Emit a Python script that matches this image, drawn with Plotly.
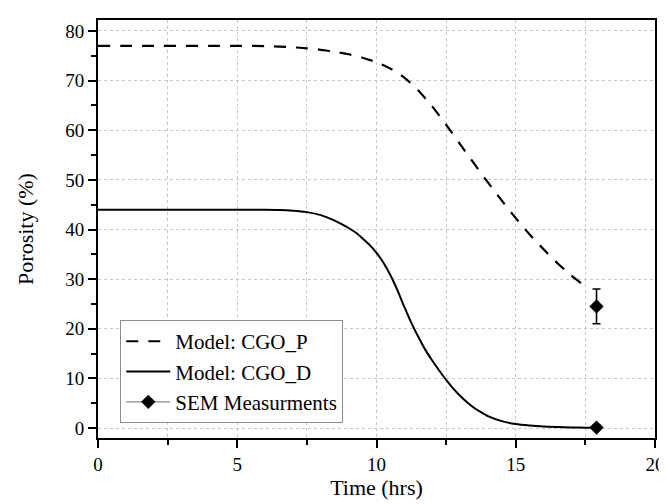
import plotly.graph_objects as go

# ---- data ----
time_p = [0, 1, 2, 3, 4, 5, 6, 6.5, 7, 7.5, 8, 8.5, 9, 9.5, 10, 10.5, 11, 11.5,
          12, 12.5, 13, 13.5, 14, 14.5, 15, 15.5, 16, 16.5, 17, 17.5]
porosity_p = [77, 77, 77, 77, 77, 77, 76.95, 76.85, 76.7, 76.5, 76.2, 75.8, 75.3, 74.6,
              73.7, 72.4, 70.6, 68.0, 64.8, 61.1, 57.2, 53.3, 49.5, 45.8, 42.3, 39.0,
              36.0, 33.2, 30.7, 28.5]

time_d = [0, 1, 2, 3, 4, 5, 6, 6.5, 7, 7.5, 8, 8.25, 8.5, 8.75, 9, 9.25, 9.5, 9.75,
          10, 10.25, 10.5, 10.75, 11, 11.25, 11.5, 11.75, 12, 12.25, 12.5, 12.75,
          13, 13.25, 13.5, 13.75, 14, 14.5, 15, 15.5, 16, 16.5, 17, 17.5, 17.9]
porosity_d = [44, 44, 44, 44, 44, 44, 44, 43.95, 43.8, 43.5, 42.9, 42.4, 41.8, 41.1,
              40.3, 39.4, 38.2, 36.9, 35.3, 33.3, 30.8, 27.8, 24.4, 21.2, 18.4, 15.8,
              13.6, 11.6, 9.7, 8.0, 6.5, 5.2, 4.1, 3.2, 2.4, 1.4, 0.8, 0.5, 0.3, 0.2,
              0.12, 0.08, 0.05]

sem_time = [17.9, 17.9]
sem_porosity = [24.5, 0.1]
sem_error = [3.5, 0.5]

x_ticks = [0, 5, 10, 15, 20]
y_ticks = [0, 10, 20, 30, 40, 50, 60, 70, 80]

FONT = "Liberation Serif"

fig = go.Figure()
fig.add_trace(go.Scatter(
    x=time_p, y=porosity_p, mode="lines", name="Model: CGO_P",
    line=dict(color="black", width=2.2, dash="12px,10px", shape="spline", smoothing=0.6),
))
fig.add_trace(go.Scatter(
    x=time_d, y=porosity_d, mode="lines", name="Model: CGO_D",
    line=dict(color="black", width=2, shape="spline", smoothing=0.6),
))
# markers only in the plot (gap between points), gray line shown in legend
sx, sy, se = [], [], []
for i, (t, p, e) in enumerate(zip(sem_time, sem_porosity, sem_error)):
    if i:
        sx.append(None); sy.append(None); se.append(None)
    sx.append(t); sy.append(p); se.append(e)
fig.add_trace(go.Scatter(
    x=sx, y=sy, mode="lines+markers", name="SEM Measurments",
    line=dict(color="#8a8a8a", width=1.2),
    marker=dict(symbol="diamond", size=11, color="black"),
    error_y=dict(type="data", array=se, color="black", thickness=1.6, width=4),
    connectgaps=False,
))

grid = dict(gridcolor="#c8c8c8", griddash="3px,3px", gridwidth=1)
fig.update_layout(
    width=667, height=504,
    margin=dict(l=90, r=13, t=10, b=74),
    paper_bgcolor="white", plot_bgcolor="white",
    font=dict(family=FONT, size=19, color="black"),
    showlegend=True,
    legend=dict(
        x=0.040, y=0.282, xanchor="left", yanchor="top",
        bgcolor="white", bordercolor="#8c8c8c", borderwidth=1,
        font=dict(family=FONT, size=21, color="black"),
        tracegroupgap=0, itemwidth=44,
    ),
    xaxis=dict(
        range=[0, 20], tickvals=x_ticks, ticktext=[str(v) for v in x_ticks],
        showline=True, linecolor="black", linewidth=2, mirror=True,
        ticks="outside", ticklen=8, tickwidth=1.6, tickcolor="black",
        showgrid=True, **grid, zeroline=False,
        minor=dict(dtick=2.5, tick0=0, ticks="outside", ticklen=5, tickwidth=1.6,
                   tickcolor="black", showgrid=True, **grid),
        title=dict(text="Time (hrs)", font=dict(family=FONT, size=22), standoff=0),
    ),
    yaxis=dict(
        range=[-2, 82.2], tickvals=y_ticks, ticktext=[str(v) for v in y_ticks],
        showline=True, linecolor="black", linewidth=2, mirror=True,
        ticks="outside", ticklen=8, tickwidth=1.6, tickcolor="black",
        showgrid=True, **grid, zeroline=False,
        minor=dict(dtick=5, tick0=0, ticks="outside", ticklen=5, tickwidth=1.6,
                   tickcolor="black", showgrid=False),
        title=dict(text="Porosity (%)", font=dict(family=FONT, size=22), standoff=26),
    ),
)

fig.write_html("out.html")
